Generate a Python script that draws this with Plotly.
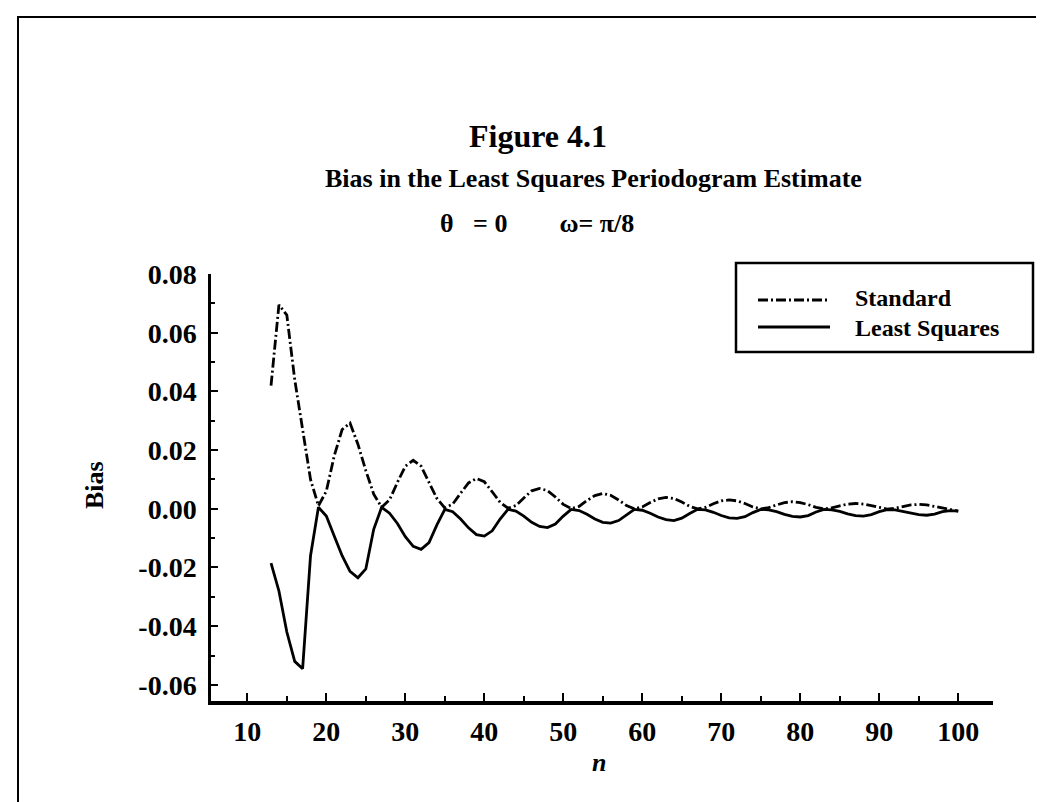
import plotly.graph_objects as go

# ---- data ----
n_values = list(range(13, 101))

standard_bias = [
    0.042, 0.0695, 0.066, 0.044, 0.027, 0.010, 0.001, 0.006, 0.018, 0.027,
    0.0292, 0.022, 0.013, 0.005, 0.0005, 0.003, 0.009, 0.0145, 0.0165, 0.0145,
    0.009, 0.0035, 0.0003, 0.0016, 0.0053, 0.0088, 0.0103, 0.0092, 0.0058, 0.0022,
    0.0002, 0.0011, 0.0037, 0.0061, 0.0069, 0.0062, 0.0040, 0.0015, 0.0001, 0.0008,
    0.0028, 0.0045, 0.0052, 0.0046, 0.0030, 0.0011, 0.0000, 0.0006, 0.0021, 0.0034,
    0.0039, 0.0035, 0.0023, 0.0008, 0.0000, 0.0005, 0.0017, 0.0027, 0.0030, 0.0027,
    0.0018, 0.0006, 0.0000, 0.0004, 0.0013, 0.0021, 0.0024, 0.0021, 0.0014, 0.0005,
    0.0000, 0.0003, 0.0010, 0.0016, 0.0018, 0.0016, 0.0011, 0.0004, -0.0001, 0.0002,
    0.0008, 0.0013, 0.0015, 0.0013, 0.0008, 0.0002, -0.0004, -0.0008,
]

least_squares_bias = [
    -0.0185, -0.028, -0.042, -0.052, -0.0545, -0.016, 0.0005, -0.0025, -0.0093, -0.016,
    -0.0213, -0.0235, -0.0205, -0.007, 0.0005, -0.0015, -0.005, -0.0095, -0.0128, -0.0138,
    -0.0115, -0.0055, -0.0002, -0.0010, -0.0035, -0.0065, -0.0088, -0.0093, -0.0075, -0.0035,
    -0.0002, -0.0008, -0.0025, -0.0046, -0.0060, -0.0064, -0.0052, -0.0025, -0.0002, -0.0006,
    -0.0019, -0.0035, -0.0046, -0.0049, -0.0040, -0.0020, -0.0002, -0.0005, -0.0015, -0.0028,
    -0.0037, -0.0040, -0.0032, -0.0016, -0.0002, -0.0004, -0.0012, -0.0023, -0.0031, -0.0033,
    -0.0027, -0.0013, -0.0002, -0.0004, -0.0010, -0.0019, -0.0026, -0.0028, -0.0023, -0.0011,
    -0.0002, -0.0004, -0.0009, -0.0017, -0.0023, -0.0025, -0.0020, -0.0010, -0.0003, -0.0004,
    -0.0009, -0.0015, -0.0020, -0.0022, -0.0018, -0.0010, -0.0006, -0.0008,
]

series_names = ["Standard", "Least Squares"]
x_ticks = [10, 20, 30, 40, 50, 60, 70, 80, 90, 100]
y_ticks = [-0.06, -0.04, -0.02, 0.00, 0.02, 0.04, 0.06, 0.08]
y_tick_labels = ["-0.06", "-0.04", "-0.02", "0.00", "0.02", "0.04", "0.06", "0.08"]

title_text = "Figure 4.1"
subtitle_text = "Bias in the Least Squares Periodogram Estimate"
params_text = "\u03b8\u00a0\u00a0\u00a0= 0\u00a0\u00a0\u00a0\u00a0\u00a0\u00a0\u00a0\u00a0\u03c9= \u03c0/8"

# ---- figure ----
FONT = "Liberation Serif, Times New Roman, serif"
bold = dict(family=FONT, color="black", weight="bold")
DASHDOT = "10px,3px,2px,3px"

fig = go.Figure()
fig.add_trace(go.Scatter(
    x=n_values, y=standard_bias, mode="lines", name=series_names[0],
    line=dict(color="black", width=2.8, dash=DASHDOT),
    showlegend=False,
))
fig.add_trace(go.Scatter(
    x=n_values, y=least_squares_bias, mode="lines", name=series_names[1],
    line=dict(color="black", width=2.8),
    showlegend=False,
))

W, H = 1044, 802
L, R, T, B = 203, 59, 266, 109
PW, PH = W - L - R, H - T - B


def px(xp):
    return (xp - L) / PW


def py(yp):
    return (H - B - yp) / PH


fig.update_layout(
    width=W, height=H,
    margin=dict(l=L, r=R, t=T, b=B),
    paper_bgcolor="white", plot_bgcolor="white",
    showlegend=False,
)

fig.update_xaxes(
    range=[5.4, 104.4],
    tickvals=x_ticks,
    ticks="inside", ticklen=8, tickwidth=2, tickcolor="black",
    showline=True, linecolor="black", linewidth=3.5,
    showgrid=False, zeroline=False,
    tickfont=dict(size=28, **bold),
    ticklabelstandoff=3,
    minor=dict(dtick=5, tick0=0, ticks="inside", ticklen=5, tickwidth=1.5, tickcolor="black"),
)
fig.update_yaxes(
    range=[-0.0655, 0.08],
    tickvals=y_ticks, ticktext=y_tick_labels,
    ticks="inside", ticklen=7, tickwidth=2, tickcolor="black",
    showline=True, linecolor="black", linewidth=2.5,
    showgrid=False, zeroline=False,
    tickfont=dict(size=28, **bold),
    ticklabelstandoff=6,
    minor=dict(dtick=0.01, tick0=0, ticks="inside", ticklen=4, tickwidth=1.5, tickcolor="black"),
)

annotations = [
    dict(text=title_text, x=px(530), y=py(128), font=dict(size=32, **bold)),
    dict(text=subtitle_text, x=px(585), y=py(170), font=dict(size=26, **bold)),
    dict(text=params_text, x=px(529), y=py(215), font=dict(size=26, **bold)),
    dict(text="Bias", x=px(86), y=py(477), textangle=-90, font=dict(size=26, **bold)),
    dict(text="<i>n</i>", x=px(591), y=py(754), font=dict(size=26, **bold)),
    dict(text=series_names[0], x=px(845), y=py(290), xanchor="left", font=dict(size=24, **bold)),
    dict(text=series_names[1], x=px(845), y=py(320), xanchor="left", font=dict(size=24, **bold)),
]
for a in annotations:
    a.setdefault("xanchor", "center")
    a.update(xref="paper", yref="paper", yanchor="middle", showarrow=False)
    fig.add_annotation(**a)

shapes = [
    # legend box
    dict(type="rect", x0=px(728), x1=px(1025), y0=py(344), y1=py(255),
         line=dict(color="black", width=2.5), fillcolor="white", layer="below"),
    # legend samples
    dict(type="line", x0=px(750), x1=px(822), y0=py(292), y1=py(292),
         line=dict(color="black", width=2.8, dash=DASHDOT)),
    dict(type="line", x0=px(750), x1=px(822), y0=py(319), y1=py(319),
         line=dict(color="black", width=2.8)),
    # outer frame
    dict(type="rect", x0=px(10), x1=px(1039), y0=py(798), y1=py(9),
         line=dict(color="black", width=2), layer="below"),
]
for s in shapes:
    s.update(xref="paper", yref="paper")
    fig.add_shape(**s)

fig.write_html("out.html")
